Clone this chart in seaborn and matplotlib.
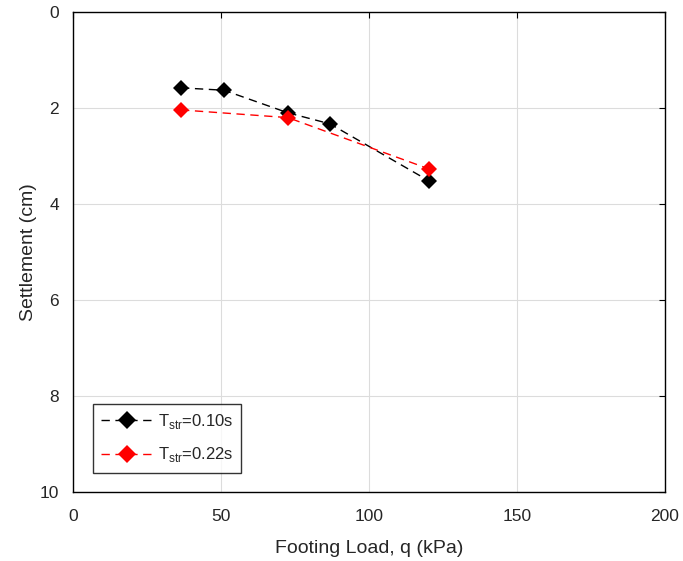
import matplotlib
matplotlib.use("Agg")
import matplotlib.pyplot as plt
import seaborn as sns
import pandas as pd

# Settlement vs. footing load for two structural periods
load_010 = [36.5, 51.0, 72.6, 86.8, 120.3]
settle_010 = [1.58, 1.63, 2.10, 2.33, 3.52]
load_022 = [36.5, 72.6, 120.3]
settle_022 = [2.04, 2.20, 3.27]
series_labels = [r"T$_{\mathrm{str}}$=0.10s", r"T$_{\mathrm{str}}$=0.22s"]
x_ticks = [0, 50, 100, 150, 200]
y_ticks = [0, 2, 4, 6, 8, 10]

df = pd.concat([
    pd.DataFrame({"load": load_010, "settle": settle_010, "series": series_labels[0]}),
    pd.DataFrame({"load": load_022, "settle": settle_022, "series": series_labels[1]}),
])

sns.set_theme(style="whitegrid")
plt.rcParams["font.family"] = ["Liberation Sans", "DejaVu Sans"]
plt.rcParams["mathtext.fontset"] = "custom"
plt.rcParams["mathtext.rm"] = "Liberation Sans"

fig = plt.figure(figsize=(6.83, 5.61), dpi=100)
ax = fig.add_axes([73 / 683, 1 - 492 / 561, (665 - 73) / 683, (492 - 12) / 561])

palette = {series_labels[0]: "black", series_labels[1]: "red"}
sns.lineplot(data=df, x="load", y="settle", hue="series", palette=palette,
             marker="D", markersize=8, markeredgewidth=0, linestyle="--",
             dashes=False, linewidth=1.0, ax=ax, sort=False)
for line in ax.get_lines():
    line.set_dashes([6, 4])

ax.set_xlim(0, 200)
ax.set_ylim(10, 0)
ax.set_xticks(x_ticks)
ax.set_yticks(y_ticks)
ax.grid(True, color="#dcdcdc", linewidth=0.8)
for s in ax.spines.values():
    s.set_visible(True)
    s.set_color("black")
    s.set_linewidth(1.0)
ax.tick_params(axis="both", labelsize=12.5, colors="black", labelcolor="#262626",
               direction="in", length=4, width=0.8, top=True, right=True)
ax.tick_params(axis="x", pad=12)
ax.tick_params(axis="y", pad=10)
ax.set_xlabel("Footing Load, q (kPa)", fontsize=14, color="#262626", labelpad=12)
ax.set_ylabel("Settlement (cm)", fontsize=14, color="#262626", labelpad=2)

handles, labels = ax.get_legend_handles_labels()
leg = ax.legend(handles, labels, loc="lower left", bbox_to_anchor=(0.033, 0.04),
                frameon=True, fontsize=12, handlelength=3.1, borderpad=0.5,
                labelspacing=0.85, handletextpad=0.3, fancybox=False,
                borderaxespad=0.0)
leg.get_frame().set_edgecolor("black")
leg.get_frame().set_linewidth(1.0)
for lh in leg.get_lines():
    lh.set_dashes([6, 4])
    lh.set_markersize(9)

fig.savefig("out.png", dpi=100)
